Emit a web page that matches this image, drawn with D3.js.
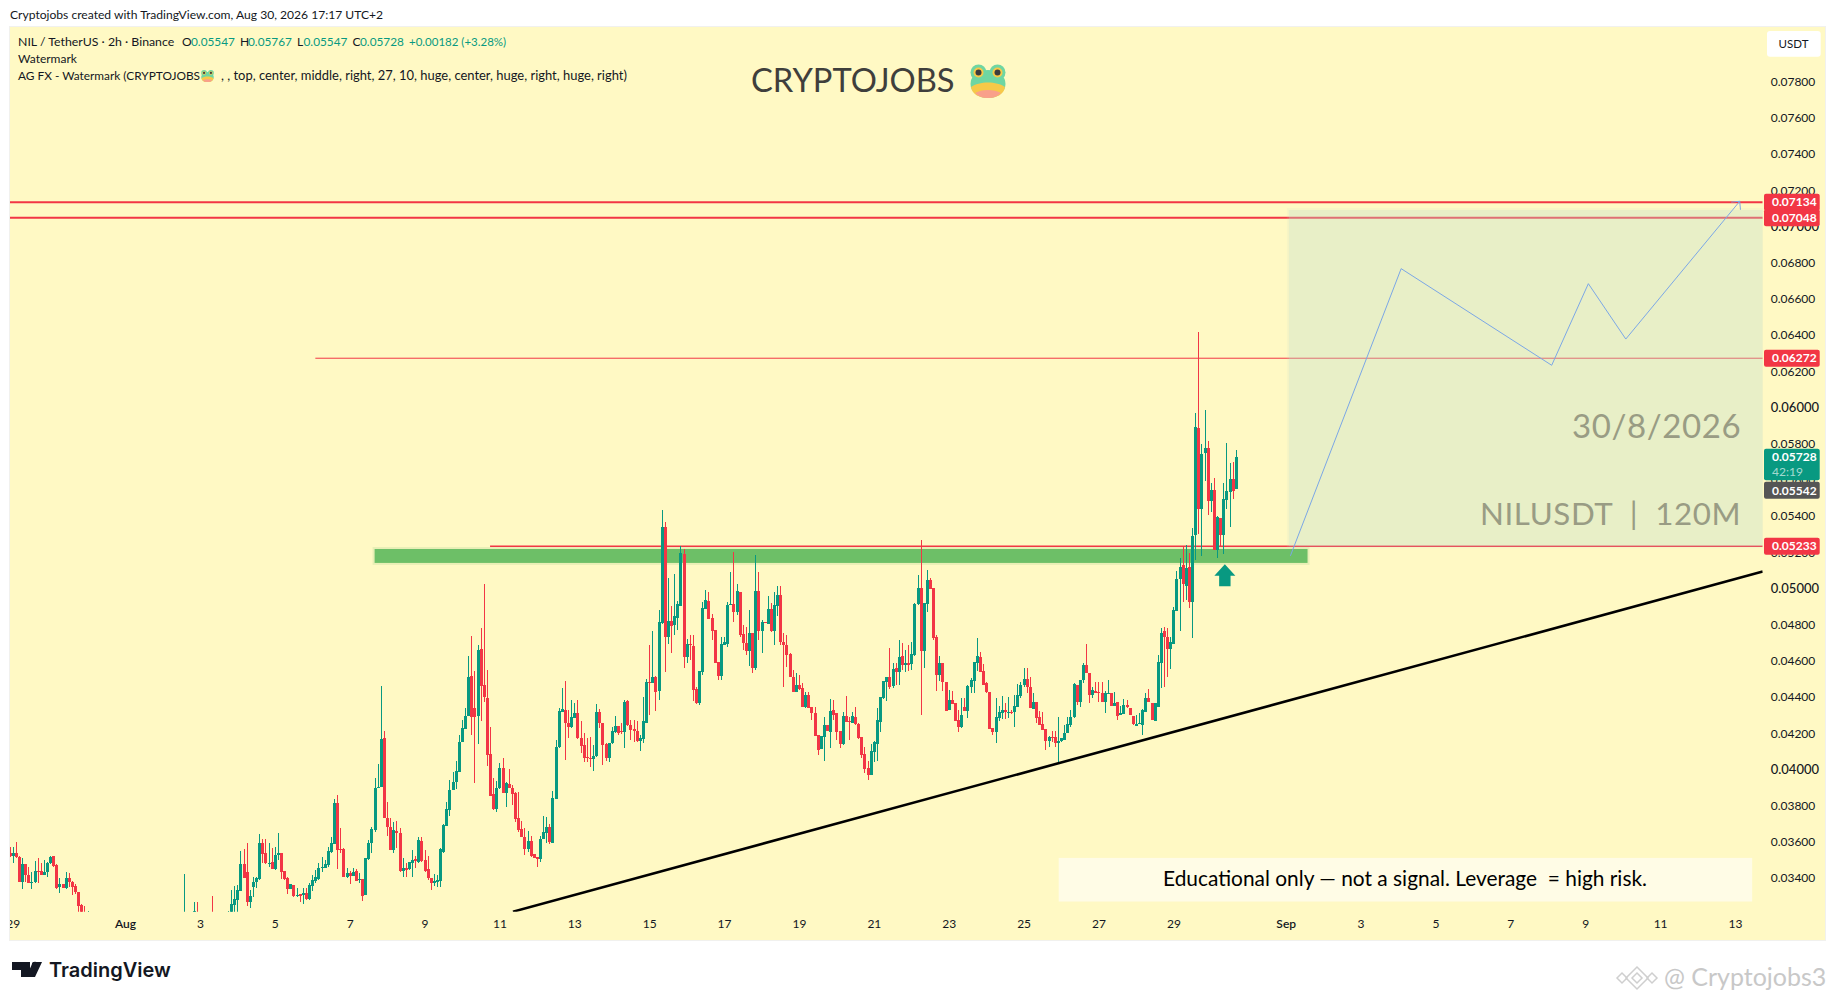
<!DOCTYPE html>
<html>
<head>
<meta charset="utf-8">
<script src="https://cdn.jsdelivr.net/npm/d3@7"></script>
<style>
body { margin: 0; background: #fff; }
svg { display: block; }
text { font-family: Lato, "Open Sans", sans-serif; }
</style>
</head>
<body>
<div id="visualization"></div>
<script>
// prices below are in 0.00001 USDT, one bar every 2h from Jul 28 22:00
// off(n) = bars that sit under the visible range
const off = n => Array(n).fill(null);
const opens = [
  3536,3522,3536,3514,3380,3477,3417,3374,3380,3439,3439,3417,3431,3481,3522,3472,3350,3367,3343,3400,3380,3356,3321,3251,3190,3170,
  ...off(30),3100,...off(2),3150,3214,...off(4),3140,...off(4),3130,
  3180,3251,3279,3330,3477,3431,3269,3349,3376,3395,
  3592,3536,3477,3488,3452,3525,3540,3439,3400,3339,
  3360,3301,3312,3304,3315,3284,3356,3385,3396,3453,
  3457,3472,3544,3588,3814,3560,3560,3404,3430,3413,
  3441,3389,3396,3306,3503,3595,3665,3895,3905,4174,
  3733,3680,3555,3658,3651,3441,3453,3448,3481,3503,
  3490,3605,3500,3448,3400,3374,3380,3383,3546,3687,
  3776,3886,3932,3988,
  4151,4225,4297,4516,4338,4297,4666,4467,4393,4084,
  3864,3781,3895,4006,3872,3919,3897,3868,3730,3671,
  3625,3560,3604,3531,3514,3507,3616,3651,3680,3595,
  3838,4122,4319,4329,4255,4236,4286,4310,4172,4135,
  4071,4063,4056,4076,4317,4255,4141,4065,4144,4207,
  4240,4211,4209,4380,4244,4224,4211,4159,4170,4259,
  4485,4476,4511,4434,4807,5340,4734,4820,4798,4839,
  4905,5190,4623,4693,4682,4445,4369,4540,4888,4931,
  4835,4771,4594,4516,4688,4693,4907,4914,4872,4982,
  4748,4697,4654,4754,4562,4986,4767,4817,4804,4887,
  4767,4905,4964,4704,4688,4638,4513,4430,4465,4448,
  4345,4411,4347,4314,4190,4113,4181,4246,4209,4329,
  4312,4213,4141,4295,4268,4258,4292,4251,4178,4084,
  4006,3969,4095,4141,4264,4393,4485,4509,4463,4559,
  4540,4627,4579,4586,4583,4632,4914,5001,4656,4914,
  5047,5001,4730,4522,4586,4483,4329,4384,4369,4273,
  4233,4347,4325,4457,4491,4590,4623,4544,4480,4426,
  4227,4209,4282,4314,4327,4314,4318,4316,4347,4408,
  4467,4500,4457,4334,4373,4292,4249,4222,4159,4178,
  4178,4144,4156,4163,4200,4246,4288,4467,4371,4494,
  4577,4535,4411,4435,4426,4421,4375,4421,4424,4352,
  4371,4301,4305,4354,4340,4297,4242,4251,4247,4319,
  4393,4369,4270,4347,4590,4765,4730,4666,4693,4877,
  5050,5128,5013,5118,4927,5295,5886,5439,5746,5776,
  5483,5544,5212,5389,5295,5489,5533,5605,5547
];
const highs = [
  3573,3573,3601,3522,3509,3477,3459,3431,3496,3509,3481,3499,3490,3522,3522,3477,3402,3367,3431,3426,3385,3365,3321,3256,3247,3218,
  ...off(30),3422,...off(2),3268,3268,...off(4),3301,...off(4),3218,
  3334,3356,3361,3551,3558,3592,3334,3404,3404,3641,
  3614,3614,3592,3564,3573,3647,3540,3439,3404,3367,
  3360,3343,3312,3343,3343,3371,3417,3444,3481,3514,
  3499,3570,3628,3837,3859,3674,3564,3453,3439,3453,
  3452,3426,3396,3509,3610,3684,3951,4030,4461,4212,
  3818,3732,3711,3713,3674,3509,3481,3490,3555,3522,
  3625,3628,3555,3522,3400,3422,3417,3564,3697,3818,
  3942,3988,4046,4190,
  4273,4338,4627,4737,4544,4688,4782,5025,4550,4235,
  3951,3938,4034,4063,3929,4002,3914,3877,3877,3715,
  3674,3660,3632,3531,3514,3632,3743,3739,3698,3881,
  4163,4338,4448,4489,4329,4384,4365,4384,4268,4200,
  4172,4178,4135,4362,4332,4255,4144,4148,4236,4295,
  4240,4255,4384,4384,4273,4273,4270,4190,4402,4498,
  4688,4765,4516,4881,5434,5365,5056,4903,5080,4931,
  5235,5216,4719,4743,4743,4457,4542,4927,4992,4980,
  4857,4771,4594,4734,4734,4927,5093,5203,5025,4982,
  4798,4789,4881,4754,5185,5093,4826,4817,4958,4918,
  4982,5014,5014,4752,4743,4642,4550,4531,4522,4476,
  4430,4430,4347,4347,4190,4185,4288,4246,4388,4384,
  4312,4213,4319,4406,4292,4319,4343,4255,4178,4126,
  4049,4139,4159,4338,4399,4489,4509,4669,4590,4590,
  4715,4701,4660,4688,4706,4922,5074,5268,4922,5102,
  5056,5001,4741,4627,4586,4483,4439,4435,4369,4329,
  4397,4397,4467,4503,4596,4728,4651,4583,4485,4426,
  4227,4393,4352,4408,4369,4402,4327,4411,4472,4485,
  4559,4562,4513,4421,4373,4323,4319,4222,4185,4210,
  4214,4292,4176,4246,4292,4329,4476,4467,4494,4586,
  4693,4535,4457,4485,4485,4481,4435,4494,4424,4430,
  4371,4351,4387,4384,4340,4297,4301,4310,4332,4421,
  4444,4369,4369,4631,4780,4789,4780,4734,4899,5096,
  5168,5231,5240,5198,5334,5967,6415,5798,5986,5815,
  5581,5608,5400,5389,5581,5802,5691,5697,5767
];
const lows = [
  3514,3481,3509,3380,3341,3380,3374,3341,3371,3371,3417,3417,3407,3477,3463,3339,3319,3347,3339,3352,3306,3312,3200,3170,3160,3150,
  ...off(30),3080,...off(2),3140,3140,...off(4),3090,...off(4),3120,
  3170,3214,3214,3330,3398,3247,3236,3297,3343,3389,
  3481,3477,3463,3452,3444,3500,3393,3389,3312,3339,
  3297,3297,3269,3256,3279,3279,3330,3371,3389,3435,
  3457,3463,3536,3588,3452,3536,3407,3398,3367,3413,
  3385,3371,3275,3306,3500,3536,3656,3895,3905,3733,
  3634,3555,3540,3564,3431,3407,3407,3444,3407,3457,
  3485,3490,3435,3389,3334,3356,3352,3352,3540,3687,
  3745,3886,3892,3988,
  4150,4225,4297,4190,3927,4141,4270,4371,4019,3855,
  3776,3767,3892,3872,3794,3897,3803,3711,3656,3625,
  3527,3546,3518,3511,3463,3490,3616,3595,3586,3595,
  3838,4117,4319,4052,4176,4227,4283,4166,4089,4043,
  4043,4015,3993,4071,4227,4025,4049,4043,4141,4200,
  4190,4195,4120,4240,4163,4154,4154,4104,4144,4255,
  4301,4476,4325,4384,4804,4540,4693,4642,4743,4771,
  4905,4562,4590,4605,4380,4362,4356,4522,4885,4831,
  4715,4590,4494,4494,4688,4678,4907,4817,4853,4734,
  4660,4632,4572,4531,4550,4715,4645,4807,4804,4761,
  4688,4848,4688,4457,4568,4513,4430,4430,4439,4345,
  4338,4338,4273,4185,4080,4113,4049,4214,4117,4273,
  4163,4117,4135,4264,4163,4255,4246,4166,4062,3979,
  3942,3969,4043,4049,4209,4387,4380,4443,4448,4467,
  4467,4550,4540,4546,4550,4627,4909,4301,4562,4868,
  4995,4715,4435,4491,4435,4325,4329,4362,4268,4205,
  4227,4325,4282,4421,4424,4544,4540,4467,4421,4224,
  4190,4144,4270,4279,4277,4282,4305,4236,4347,4393,
  4457,4421,4338,4334,4259,4246,4218,4108,4126,4150,
  4126,4034,4150,4163,4200,4236,4286,4356,4347,4476,
  4531,4365,4393,4421,4375,4371,4314,4421,4352,4352,
  4273,4301,4305,4338,4299,4246,4242,4251,4190,4319,
  4371,4273,4270,4347,4448,4457,4513,4555,4693,4877,
  4767,4927,4936,4894,4728,5157,5301,5179,5594,5406,
  5420,5212,5170,5231,5190,5437,5341,5494,5547
];
const closes = [
  3522,3536,3514,3380,3477,3417,3374,3380,3439,3433,3417,3431,3485,3518,3466,3347,3365,3347,3400,3376,3352,3321,3247,3190,3170,3180,
  ...off(30),3120,...off(2),3218,3160,...off(4),3100,...off(4),3150,
  3255,3282,3334,3477,3398,3269,3301,3376,3398,3593,
  3531,3481,3485,3452,3527,3540,3435,3396,3339,3367,
  3302,3306,3301,3315,3284,3361,3389,3404,3455,3463,
  3477,3547,3592,3814,3555,3555,3407,3426,3413,3431,
  3385,3396,3301,3509,3595,3669,3895,3905,4168,3733,
  3684,3555,3665,3651,3439,3455,3444,3490,3500,3492,
  3610,3496,3439,3398,3374,3382,3389,3560,3693,3781,
  3886,3929,3991,4151,
  4229,4295,4513,4292,4292,4660,4463,4402,4080,3855,
  3781,3895,4006,3872,3923,3897,3864,3726,3665,3625,
  3560,3604,3522,3511,3505,3614,3652,3680,3599,3840,
  4122,4323,4332,4255,4236,4288,4310,4172,4132,4065,
  4062,4056,4076,4317,4255,4135,4065,4144,4211,4240,
  4203,4207,4373,4244,4218,4211,4159,4174,4268,4485,
  4480,4511,4430,4813,5340,4734,4820,4794,4848,4914,
  5196,4623,4693,4686,4439,4365,4542,4892,4936,4831,
  4767,4590,4516,4691,4702,4909,4914,4872,4986,4743,
  4697,4654,4754,4562,4986,4767,4817,4809,4887,4767,
  4907,4964,4704,4688,4634,4513,4430,4465,4446,4345,
  4411,4341,4310,4185,4108,4185,4246,4214,4323,4303,
  4209,4141,4295,4264,4260,4295,4249,4172,4080,4004,
  3969,4100,4150,4273,4399,4489,4509,4457,4553,4540,
  4620,4577,4586,4579,4638,4916,5001,4656,4922,5047,
  4997,4728,4522,4586,4485,4325,4384,4362,4268,4236,
  4299,4325,4461,4494,4596,4627,4540,4467,4426,4224,
  4209,4292,4316,4329,4318,4318,4314,4351,4411,4468,
  4500,4454,4338,4375,4286,4246,4218,4159,4178,4174,
  4148,4159,4172,4200,4251,4288,4470,4371,4494,4575,
  4531,4411,4439,4421,4421,4371,4424,4424,4352,4369,
  4297,4314,4358,4343,4299,4249,4251,4255,4329,4395,
  4371,4273,4369,4592,4752,4730,4666,4706,4881,5050,
  5117,5024,5115,4927,5290,5894,5439,5743,5776,5483,
  5544,5212,5395,5295,5494,5536,5605,5536,5728
];

const priceTicks = [0.034,0.036,0.038,0.04,0.042,0.044,0.046,0.048,0.05,0.052,0.054,0.056,0.058,0.06,0.062,0.064,0.066,0.068,0.07,0.072,0.074,0.076,0.078];
const dateTicks = ["2026-07-29","2026-08-01","2026-08-03","2026-08-05","2026-08-07","2026-08-09","2026-08-11","2026-08-13","2026-08-15","2026-08-17","2026-08-19","2026-08-21","2026-08-23","2026-08-25","2026-08-27","2026-08-29","2026-09-01","2026-09-03","2026-09-05","2026-09-07","2026-09-09","2026-09-11","2026-09-13"];
const dateLabels = ["29","Aug","3","5","7","9","11","13","15","17","19","21","23","25","27","29","Sep","3","5","7","9","11","13"];

const levelPrices = [0.07134, 0.07048, 0.06272, 0.05233];
const levelStarts = ["2026-07-28T00:00Z", "2026-07-28T00:00Z", "2026-08-06T02:00Z", "2026-08-10T18:00Z"];
const levelWidths = [2, 2, 1, 1.5];
const supportZone = { start: "2026-08-07T16:00Z", end: "2026-09-01T14:00Z", top: 0.05218, bottom: 0.05141 };
const targetZone = { start: "2026-09-01T02:00Z", end: "2026-09-16T00:00Z", top: 0.07091, bottom: 0.05233 };
const noteZone = { start: "2026-08-25T22:30Z", end: "2026-09-13T11:00Z", top: 0.03511, bottom: 0.03270 };
const trendDates = ["2026-08-11T08:40Z", "2026-09-13T17:45Z"];
const trendPrices = [0.03214, 0.05093];
const pathDates = ["2026-09-01T03:00Z","2026-09-04T02:00Z","2026-09-08T02:30Z","2026-09-09T02:00Z","2026-09-10T02:00Z","2026-09-13T03:00Z"];
const pathPrices = [0.0518,0.06767,0.06233,0.06684,0.06378,0.07139];

const UP = "#089981", DOWN = "#f23645", INK = "#131722", PANE = "#fff9c4";
const paneLeft = 10, paneRight = 1825, paneTop = 27, paneBottom = 940, plotRight = 1762.7, plotBottom = 911.7;

const x = d3.scaleUtc().domain([new Date("2026-08-01T00:00Z"), new Date("2026-09-13T00:00Z")]).range([125, 1735]);
const y = d3.scaleLinear().domain([0.078, 0.034]).range([81.7, 878]);

const svg = d3.select("#visualization").append("svg").attr("width", 1835).attr("height", 1000);
const firstBar = new Date("2026-07-28T22:00Z");
const bars = opens.map((o, i) => ({
    date: d3.utcHour.offset(firstBar, i * 2),
    open: o * 1e-5, high: highs[i] * 1e-5, low: lows[i] * 1e-5, close: closes[i] * 1e-5
})).filter((b, i) => opens[i] !== null);

svg.append("rect").attr("x", paneLeft - 1).attr("y", paneTop - 1).attr("width", paneRight - paneLeft + 2).attr("height", paneBottom - paneTop + 2).attr("fill", "#f1f1ee");
svg.append("rect").attr("x", paneLeft).attr("y", paneTop).attr("width", paneRight - paneLeft).attr("height", paneBottom - paneTop).attr("fill", PANE);

const defs = svg.append("defs");
defs.append("clipPath").attr("id", "plotClip").append("rect").attr("x", paneLeft).attr("y", paneTop).attr("width", plotRight - paneLeft).attr("height", plotBottom - paneTop);
defs.append("clipPath").attr("id", "paneClip").append("rect").attr("x", paneLeft).attr("y", paneTop).attr("width", paneRight - paneLeft).attr("height", paneBottom - paneTop);
defs.append("marker").attr("id", "arrowEnd").attr("markerUnits", "userSpaceOnUse").attr("markerWidth", 20).attr("markerHeight", 20)
    .attr("viewBox", "-10 -10 20 20").attr("orient", "auto").attr("refX", 0).attr("refY", 0)
  .append("path").attr("d", "M-6,-6L0,0L-6,6").attr("fill", "none").attr("stroke", "#7ba7e6");

// header + legend
svg.append("text").attr("x", 10).attr("y", 19).attr("font-size", 12.1).attr("fill", INK).text("Cryptojobs created with TradingView.com, Aug 30, 2026 17:17 UTC+2");
const plot = svg.append("g").attr("clip-path", "url(#plotClip)");

// levels
plot.selectAll(".level").data(levelPrices).join("line").attr("class", "level")
    .attr("x1", (d, i) => x(new Date(levelStarts[i]))).attr("x2", plotRight)
    .attr("y1", d => y(d)).attr("y2", d => y(d))
    .attr("stroke", DOWN).attr("stroke-width", (d, i) => levelWidths[i]);

// support band
function zoneRect(parent, z, pad, fill) {
    parent.append("rect")
        .attr("x", x(new Date(z.start)) - pad).attr("y", y(z.top) - pad)
        .attr("width", x(new Date(z.end)) - x(new Date(z.start)) + pad * 2)
        .attr("height", y(z.bottom) - y(z.top) + pad * 2)
        .attr("fill", fill);
}
zoneRect(plot, supportZone, 2, "rgba(76,175,80,0.12)");
zoneRect(plot, supportZone, 0, "#6dbf67");

// candles
const candle = plot.selectAll(".candle").data(bars).join("g").attr("class", "candle")
    .attr("shape-rendering", "crispEdges");
candle.append("line")
    .attr("x1", d => Math.round(x(d.date)) + 0.5).attr("x2", d => Math.round(x(d.date)) + 0.5)
    .attr("y1", d => y(d.high)).attr("y2", d => y(d.low))
    .attr("stroke", d => d.close >= d.open ? UP : DOWN);
candle.append("rect")
    .attr("x", d => Math.round(x(d.date)) - 1).attr("width", 3)
    .attr("y", d => y(Math.max(d.open, d.close)))
    .attr("height", d => Math.max(1, Math.abs(y(d.open) - y(d.close))))
    .attr("fill", d => d.close >= d.open ? UP : DOWN);

// target box, sits over the red levels
zoneRect(plot, targetZone, 2, "rgba(189,226,205,0.12)");
zoneRect(plot, targetZone, 0, "rgba(189,226,205,0.26)");

// trend line
const linePath = d3.line().x(d => x(new Date(d[0]))).y(d => y(d[1]));
plot.append("path").attr("d", linePath(d3.zip(trendDates, trendPrices)))
    .attr("fill", "none").attr("stroke", "#000").attr("stroke-width", 2.6);

// projected path
plot.append("path").attr("d", linePath(d3.zip(pathDates, pathPrices)))
    .attr("fill", "none").attr("stroke", "#7ba7e6").attr("stroke-width", 1).attr("marker-end", "url(#arrowEnd)");

// buy arrow
const arrowDate = d3.utcHour.offset(firstBar, 389 * 2 + 1);
plot.append("path").attr("transform", `translate(${x(arrowDate)},${y(0.05134)})`)
    .attr("d", "M0,0L10.5,11.5L5.7,11.5L5.7,22L-5.7,22L-5.7,11.5L-10.5,11.5Z").attr("fill", UP);

// zone texts
const zoneText = (label, date, price, size) => plot.append("text")
    .attr("x", x(new Date(date))).attr("y", y(price)).attr("text-anchor", "end")
    .attr("font-size", size).attr("fill", "#999c84").style("letter-spacing", "0.6px").style("white-space", "pre").text(label);
zoneText("30/8/2026", "2026-09-13T04:00Z", 0.0583, 33);
zoneText("NILUSDT  |  120M", "2026-09-13T04:00Z", 0.05351, 31.3);

// disclaimer
zoneRect(plot, noteZone, 0, "#fffce6");
plot.append("text").attr("x", 1405).attr("y", y(0.03355)).attr("text-anchor", "middle").attr("font-size", 20.9).attr("fill", "#000")
    .style("white-space", "pre").text("Educational only — not a signal. Leverage  = high risk.");

// watermark
svg.append("text").attr("x", 751).attr("y", 92).attr("font-size", 32.7).attr("fill", "#3f3f3c").text("CRYPTOJOBS");

function drawFrog(cx, cy, s) {
    const g = svg.append("g").attr("transform", `translate(${cx},${cy}) scale(${s})`);
    g.append("ellipse").attr("cx", 0).attr("cy", 3).attr("rx", 17.5).attr("ry", 14).attr("fill", "#6fd6a2");
    g.append("path").attr("d", "M-17,6C-9,0 9,0 17,6C16,13 9,17 0,17C-9,17 -16,13 -17,6Z").attr("fill", "#f7c948");
    g.append("path").attr("d", "M-13,12C-6,8 6,8 13,12C9,16 5,17 0,17C-5,17 -9,16 -13,12Z").attr("fill", "#f9a08a");
    [-9.5, 9.5].forEach(dx => {
        g.append("circle").attr("cx", dx).attr("cy", -8.5).attr("r", 8).attr("fill", "#6fd6a2");
        g.append("circle").attr("cx", dx).attr("cy", -8.5).attr("r", 5).attr("fill", "#f7c948");
        g.append("circle").attr("cx", dx).attr("cy", -8.5).attr("r", 3).attr("fill", "#3d3d3d");
    });
}
drawFrog(988, 81, 1);

// legend lines
const legendRow = (txt, px, py, color, size) => svg.append("text").attr("x", px).attr("y", py).attr("font-size", size).attr("fill", color).text(txt);
legendRow("NIL / TetherUS · 2h · Binance", 18, 46, INK, 12.3);
legendRow("O", 182, 46, INK, 12); legendRow("0.05547", 191, 46, UP, 11.8);
legendRow("H", 240, 46, INK, 12); legendRow("0.05767", 248, 46, UP, 11.8);
legendRow("L", 297, 46, INK, 12); legendRow("0.05547", 303.5, 46, UP, 11.8);
legendRow("C", 352.5, 46, INK, 12); legendRow("0.05728", 360, 46, UP, 11.8);
legendRow("+0.00182 (+3.28%)", 409, 46, UP, 11.5);
legendRow("Watermark", 18, 63, INK, 12);
legendRow("AG FX - Watermark (CRYPTOJOBS", 18, 80, INK, 11.85);
drawFrog(207.5, 76, 0.36);
legendRow(", , top, center, middle, right, 27, 10, huge, center, huge, right, huge, right)", 221, 80, INK, 12.95);

// axes
const priceAxis = svg.append("g").attr("transform", `translate(${plotRight},0)`)
    .call(d3.axisRight(y).tickValues(priceTicks).tickSize(0).tickPadding(8).tickFormat(d3.format(".5f")));
priceAxis.select(".domain").remove();
priceAxis.selectAll("text").attr("fill", INK).style("font-family", "Lato, sans-serif")
    .attr("font-size", d => Math.abs(d * 100 - Math.round(d * 100)) < 1e-9 ? 13 : 12)
    .attr("font-weight", d => Math.abs(d * 100 - Math.round(d * 100)) < 1e-9 ? 500 : 400);

const timeAxis = svg.append("g").attr("clip-path", "url(#paneClip)").append("g").attr("transform", `translate(0,${plotBottom})`)
    .call(d3.axisBottom(x).tickValues(dateTicks.map(d => new Date(d + "T00:00Z"))).tickSize(0).tickPadding(8).tickFormat((d, i) => dateLabels[i]));
timeAxis.select(".domain").remove();
timeAxis.selectAll("text").attr("fill", INK).style("font-family", "Lato, sans-serif").attr("font-size", 12)
    .attr("font-weight", (d, i) => isNaN(+dateLabels[i]) ? 600 : 400);

// USDT button
svg.append("rect").attr("x", 1767).attr("y", 31).attr("width", 53.7).attr("height", 25.7).attr("rx", 3).attr("fill", "#fff");
svg.append("text").attr("x", 1793.5).attr("y", 48).attr("text-anchor", "middle").attr("font-size", 11.5).attr("fill", INK).text("USDT");

// price tags
const tagPrices = [0.07134, 0.07048, 0.06272, 0.05233, 0.05542];
const tagColors = [DOWN, DOWN, DOWN, DOWN, "#555"];
const tags = svg.append("g");
tags.selectAll("rect").data(tagPrices).join("rect")
    .attr("x", 1764).attr("width", 55.7).attr("y", d => y(d) - 8.5).attr("height", 17).attr("rx", 2)
    .attr("fill", (d, i) => tagColors[i]);
tags.selectAll("text").data(tagPrices).join("text")
    .attr("x", 1772).attr("y", d => y(d) + 4.2).attr("font-size", 12).attr("font-weight", 700).attr("fill", "#fff").text(d3.format(".5f"));
const lastPrice = 0.05728;
svg.append("rect").attr("x", 1764).attr("y", y(lastPrice) - 8).attr("width", 55.7).attr("height", 31.5).attr("rx", 2).attr("fill", UP);
svg.append("text").attr("x", 1772).attr("y", y(lastPrice) + 4.2).attr("font-size", 12).attr("font-weight", 700).attr("fill", "#fff").text(d3.format(".5f")(lastPrice));
svg.append("text").attr("x", 1772).attr("y", y(lastPrice) + 19.5).attr("font-size", 12).attr("fill", "rgba(255,255,255,0.65)").text("42:19");

// TradingView logo
const logo = svg.append("g").attr("fill", "#131722");
logo.append("path").attr("d", "M12,962H30V977H21V970H12Z");
logo.append("circle").attr("cx", 35).attr("cy", 965).attr("r", 3.2);
logo.append("path").attr("d", "M33,962H42L35,977H26Z");
svg.append("text").attr("x", 49).attr("y", 976.5).attr("font-size", 20).attr("font-weight", 600).style("font-family", "Inter, sans-serif").attr("fill", "#131722").text("TradingView");

// Binance square mark
const mark = svg.append("g").attr("fill", "none").attr("stroke", "#cfcfcf").attr("stroke-width", 1.5).attr("transform", "translate(1637,978)");
mark.append("path").attr("d", "M0,-11L11,0L0,11L-11,0Z");
mark.append("path").attr("d", "M0,-5L5,0L0,5L-5,0Z");
mark.append("path").attr("d", "M-20,0L-15,-5L-10,0L-15,5Z");
mark.append("path").attr("d", "M20,0L15,-5L10,0L15,5Z");
svg.append("text").attr("x", 1664).attr("y", 986).attr("font-size", 25).attr("fill", "#c8c8c8").text("@ Cryptojobs3");
</script>
</body>
</html>
